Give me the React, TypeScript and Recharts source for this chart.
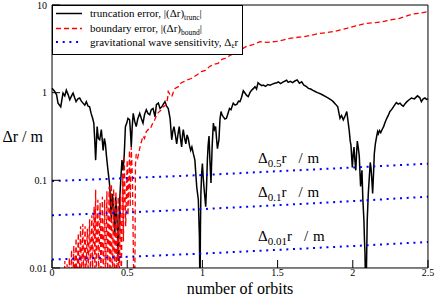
import React from "react";
import { LineChart, Line, XAxis, YAxis } from "recharts";

const SERIF = "Liberation Serif, Times New Roman, DejaVu Serif, serif";

// axis ticks
const X_TICKS = [0, 0.5, 1, 1.5, 2, 2.5];
const X_MINOR = [0.25, 0.75, 1.25, 1.75, 2.25];
const Y_TICKS = [0.01, 0.1, 1, 10];
const Y_MINOR = [
  0.02, 0.03, 0.04, 0.05, 0.06, 0.07, 0.08, 0.09,
  0.2, 0.3, 0.4, 0.5, 0.6, 0.7, 0.8, 0.9,
  2, 3, 4, 5, 6, 7, 8, 9,
];

// [orbits, |Δr| / m]
const truncation: [number, number][] = [
  [0, 1.12], [0.018, 1.03], [0.03, 0.95], [0.04, 0.76], [0.058, 0.69], [0.073, 0.99],
  [0.085, 0.92], [0.095, 1.07], [0.107, 0.95], [0.118, 0.83], [0.13, 0.92], [0.14, 0.99],
  [0.15, 0.88], [0.16, 0.79], [0.172, 0.85], [0.184, 0.87], [0.195, 0.8], [0.206, 0.76],
  [0.218, 0.72], [0.228, 0.79], [0.24, 0.7], [0.25, 0.69], [0.26, 0.58], [0.27, 0.51],
  [0.278, 0.45], [0.284, 0.29], [0.29, 0.17], [0.3, 0.41], [0.308, 0.3], [0.317, 0.29],
  [0.328, 0.38], [0.34, 0.22], [0.348, 0.3], [0.355, 0.26], [0.362, 0.19], [0.37, 0.14],
  [0.377, 0.11], [0.384, 0.085], [0.39, 0.05], [0.395, 0.035], [0.4, 0.07], [0.405, 0.06],
  [0.412, 0.04], [0.418, 0.025], [0.423, 0.065], [0.428, 0.05], [0.434, 0.03], [0.44, 0.012],
  [0.445, 0.03], [0.45, 0.06], [0.457, 0.1], [0.465, 0.17], [0.472, 0.13], [0.48, 0.19],
  [0.488, 0.41], [0.497, 0.45], [0.505, 0.51], [0.516, 0.49], [0.522, 0.35], [0.527, 0.24],
  [0.533, 0.4], [0.54, 0.58], [0.55, 0.47], [0.56, 0.41], [0.57, 0.5], [0.583, 0.58],
  [0.595, 0.5], [0.605, 0.45], [0.615, 0.56], [0.627, 0.64], [0.638, 0.58], [0.65, 0.56],
  [0.66, 0.64], [0.672, 0.66], [0.685, 0.53], [0.694, 0.73], [0.707, 0.76], [0.718, 0.66],
  [0.73, 0.69], [0.74, 0.74], [0.751, 0.79], [0.762, 0.7], [0.773, 0.66], [0.785, 0.51],
  [0.796, 0.29], [0.803, 0.36], [0.811, 0.41], [0.82, 0.33], [0.829, 0.26], [0.838, 0.34],
  [0.846, 0.41], [0.854, 0.3], [0.862, 0.24], [0.868, 0.33], [0.873, 0.38], [0.882, 0.3],
  [0.89, 0.26], [0.898, 0.33], [0.906, 0.3], [0.914, 0.25], [0.922, 0.22], [0.93, 0.24],
  [0.94, 0.2], [0.95, 0.17], [0.956, 0.12], [0.962, 0.085], [0.968, 0.07], [0.973, 0.06],
  [0.978, 0.03], [0.98, 0.023], [0.984, 0.005], [0.987, 0.03], [0.99, 0.071], [0.995, 0.12],
  [1.0, 0.155], [1.005, 0.11], [1.01, 0.085], [1.016, 0.065], [1.022, 0.05], [1.028, 0.09],
  [1.033, 0.17], [1.038, 0.25], [1.044, 0.32], [1.05, 0.17], [1.057, 0.093], [1.065, 0.25],
  [1.073, 0.45], [1.08, 0.38], [1.088, 0.41], [1.094, 0.3], [1.1, 0.23], [1.105, 0.26],
  [1.11, 0.29], [1.117, 0.5], [1.124, 0.61], [1.13, 0.56], [1.139, 0.53], [1.15, 0.5],
  [1.16, 0.51], [1.17, 0.58], [1.18, 0.66], [1.19, 0.64], [1.205, 0.76], [1.217, 0.72],
  [1.23, 0.74], [1.24, 0.8], [1.25, 0.79], [1.26, 0.88], [1.272, 1.05], [1.283, 0.99],
  [1.294, 0.93], [1.305, 0.9], [1.316, 1.0], [1.328, 1.07], [1.34, 1.12], [1.35, 1.17],
  [1.36, 1.1], [1.37, 1.3], [1.38, 1.25], [1.395, 1.2], [1.405, 1.22], [1.42, 1.18],
  [1.435, 1.24], [1.45, 1.22], [1.465, 1.25], [1.48, 1.28], [1.495, 1.3], [1.505, 1.33],
  [1.52, 1.27], [1.535, 1.32], [1.55, 1.36], [1.56, 1.39], [1.57, 1.31], [1.585, 1.35],
  [1.6, 1.3], [1.615, 1.36], [1.63, 1.4], [1.645, 1.28], [1.66, 1.33], [1.675, 1.22],
  [1.69, 1.18], [1.705, 1.12], [1.72, 1.1], [1.735, 1.06], [1.75, 1.03], [1.765, 1.0],
  [1.78, 0.98], [1.8, 0.94], [1.82, 0.9], [1.84, 0.86], [1.855, 0.83], [1.87, 0.79],
  [1.885, 0.74], [1.9, 0.69], [1.915, 0.51], [1.925, 0.55], [1.937, 0.49], [1.95, 0.55],
  [1.96, 0.61], [1.97, 0.45], [1.977, 0.36], [1.983, 0.28], [1.988, 0.25], [1.993, 0.18],
  [1.997, 0.14], [2.003, 0.2], [2.008, 0.24], [2.014, 0.17], [2.02, 0.13], [2.025, 0.2],
  [2.03, 0.28], [2.036, 0.24], [2.043, 0.19], [2.048, 0.12], [2.052, 0.085], [2.057, 0.11],
  [2.061, 0.13], [2.067, 0.06], [2.074, 0.035], [2.078, 0.02], [2.081, 0.015], [2.086, 0.005],
  [2.09, 0.008], [2.096, 0.035], [2.103, 0.07], [2.11, 0.11], [2.116, 0.16], [2.121, 0.14],
  [2.127, 0.1], [2.132, 0.071], [2.138, 0.12], [2.143, 0.2], [2.15, 0.26], [2.159, 0.32],
  [2.165, 0.36], [2.17, 0.34], [2.178, 0.37], [2.186, 0.35], [2.195, 0.38], [2.205, 0.41],
  [2.215, 0.46], [2.226, 0.51], [2.236, 0.55], [2.247, 0.61], [2.258, 0.64], [2.27, 0.69],
  [2.28, 0.73], [2.29, 0.77], [2.302, 0.74], [2.314, 0.76], [2.325, 0.72], [2.336, 0.7],
  [2.348, 0.75], [2.36, 0.79], [2.375, 0.83], [2.39, 0.87], [2.41, 0.85], [2.43, 0.92],
  [2.445, 0.88], [2.456, 0.79], [2.468, 0.85], [2.48, 0.87], [2.49, 0.84], [2.5, 0.85],
];

const boundary: [number, number][] = [
  [0.08, 0.004], [0.085, 0.012], [0.09, 0.004], [0.1, 0.011], [0.105, 0.004], [0.115, 0.013],
  [0.12, 0.004], [0.13, 0.016], [0.135, 0.004], [0.145, 0.018], [0.15, 0.005], [0.16, 0.022],
  [0.165, 0.006], [0.175, 0.025], [0.18, 0.006], [0.19, 0.03], [0.195, 0.007], [0.205, 0.032],
  [0.21, 0.008], [0.22, 0.03], [0.225, 0.008], [0.235, 0.028], [0.24, 0.009], [0.25, 0.036],
  [0.255, 0.008], [0.265, 0.04], [0.27, 0.01], [0.28, 0.05], [0.285, 0.009], [0.29, 0.078],
  [0.295, 0.01], [0.305, 0.06], [0.31, 0.008], [0.32, 0.055], [0.325, 0.008], [0.335, 0.065],
  [0.34, 0.007], [0.35, 0.06], [0.355, 0.006], [0.365, 0.075], [0.37, 0.007], [0.38, 0.085],
  [0.385, 0.006], [0.395, 0.09], [0.4, 0.005], [0.41, 0.08], [0.415, 0.005], [0.425, 0.075],
  [0.43, 0.005], [0.44, 0.065], [0.445, 0.005], [0.455, 0.07], [0.46, 0.006], [0.47, 0.12],
  [0.475, 0.02], [0.48, 0.19], [0.49, 0.03], [0.5, 0.17], [0.505, 0.04], [0.515, 0.22],
  [0.52, 0.05], [0.527, 0.24], [0.535, 0.1], [0.545, 0.004], [0.55, 0.004], [0.555, 0.15],
  [0.56, 0.2], [0.57, 0.18], [0.58, 0.22], [0.59, 0.26], [0.605, 0.32], [0.615, 0.3],
  [0.627, 0.36], [0.64, 0.38], [0.652, 0.38], [0.66, 0.41], [0.67, 0.45], [0.683, 0.49],
  [0.696, 0.56], [0.71, 0.6], [0.72, 0.62], [0.74, 0.69], [0.755, 0.72], [0.763, 0.76],
  [0.77, 0.9], [0.773, 1.03], [0.785, 0.95], [0.796, 0.9], [0.81, 1.05], [0.818, 1.12],
  [0.84, 1.17], [0.86, 1.3], [0.873, 1.33], [0.9, 1.4], [0.926, 1.45], [0.962, 1.59],
  [0.993, 1.74], [1.02, 1.8], [1.05, 2.0], [1.075, 2.1], [1.104, 2.16], [1.13, 2.4],
  [1.15, 2.46], [1.19, 2.69], [1.22, 2.9], [1.25, 3.06], [1.29, 3.35], [1.33, 3.5],
  [1.383, 3.81], [1.43, 3.75], [1.494, 3.85], [1.54, 4.0], [1.58, 4.17], [1.62, 4.25],
  [1.67, 4.35], [1.72, 4.5], [1.78, 4.75], [1.83, 4.85], [1.87, 4.97], [1.92, 5.2],
  [1.96, 5.42], [2.02, 5.8], [2.09, 6.18], [2.15, 6.3], [2.2, 6.45], [2.26, 6.8],
  [2.31, 7.05], [2.36, 7.5], [2.4, 7.9], [2.45, 8.1], [2.5, 8.4],
];

// gravitational wave sensitivity Δ_ε r for ε = 0.5, 0.1, 0.01
const sens05: [number, number][] = [[0, 0.098], [0.5, 0.106], [1, 0.115], [1.5, 0.127], [2, 0.14], [2.5, 0.155]];
const sens01: [number, number][] = [[0, 0.04], [0.5, 0.043], [1, 0.047], [1.5, 0.052], [2, 0.058], [2.5, 0.065]];
const sens001: [number, number][] = [[0, 0.0125], [0.5, 0.0134], [1, 0.0146], [1.5, 0.0161], [2, 0.0178], [2.5, 0.0198]];

const pts = (a: [number, number][]) => a.map(([x, v]) => ({ x, v }));

const tickFont = { fontSize: 10, fill: "#000", fontFamily: SERIF };
const axisLine = { stroke: "#000", strokeWidth: 1 };
const tickLine = { stroke: "#000", strokeWidth: 1 };
const THIN = 0.01; // axes take (almost) no room, the plot box comes from the margins

function SensLabel({ x, y, eps }: { x: number; y: number; eps: string }) {
  return (
    <text x={x} y={y} fontSize={15} fontFamily={SERIF} fill="#000">
      Δ<tspan fontSize={11} dy={4}>{eps}</tspan>
      <tspan dy={-4}>r</tspan>
      <tspan dx={12}>/</tspan>
      <tspan dx={5}>m</tspan>
    </text>
  );
}

export default function App() {
  const blue = { stroke: "#0000ff", strokeWidth: 2, strokeDasharray: "2 4.7" };
  return (
    <div style={{ position: "absolute", left: 0, top: 0, width: 436, height: 296, background: "#fff", fontFamily: SERIF }}>
      <LineChart width={436} height={296} margin={{ top: 5, right: 8, bottom: 28, left: 52 }} style={{ fontFamily: SERIF }}>
        <XAxis
          xAxisId="b" orientation="bottom" type="number" dataKey="x" domain={[0, 2.5]} ticks={X_TICKS}
          interval={0} height={THIN} tickSize={-8} tickMargin={8.5} tick={tickFont} axisLine={axisLine} tickLine={tickLine}
          label={{ value: "number of orbits", position: "bottom", offset: 14.6, fontSize: 16, fontFamily: SERIF, fill: "#000" }}
        />
        <XAxis xAxisId="bm" orientation="bottom" type="number" dataKey="x" domain={[0, 2.5]} ticks={X_MINOR}
          interval={0} height={THIN} tickSize={-4} tick={false} axisLine={false} tickLine={tickLine} />
        <XAxis xAxisId="t" orientation="top" type="number" dataKey="x" domain={[0, 2.5]} ticks={X_TICKS}
          interval={0} height={THIN} tickSize={-8} tick={false} axisLine={axisLine} tickLine={tickLine} />
        <XAxis xAxisId="tm" orientation="top" type="number" dataKey="x" domain={[0, 2.5]} ticks={X_MINOR}
          interval={0} height={THIN} tickSize={-4} tick={false} axisLine={false} tickLine={tickLine} />
        <YAxis
          yAxisId="l" orientation="left" type="number" scale="log" domain={[0.01, 10]} allowDataOverflow ticks={Y_TICKS}
          interval={0} width={THIN} tickSize={-8} tickMargin={13} tick={tickFont} axisLine={axisLine} tickLine={tickLine}
          tickFormatter={(v: number) => String(v)}
          label={{ value: "Δr / m", position: "left", offset: 9, fontSize: 16, fontFamily: SERIF, fill: "#000" }}
        />
        <YAxis yAxisId="lm" orientation="left" type="number" scale="log" domain={[0.01, 10]} allowDataOverflow ticks={Y_MINOR}
          interval={0} width={THIN} tickSize={-4} tick={false} axisLine={false} tickLine={tickLine} />
        <YAxis yAxisId="r" orientation="right" type="number" scale="log" domain={[0.01, 10]} allowDataOverflow ticks={Y_TICKS}
          interval={0} width={THIN} tickSize={-8} tick={false} axisLine={axisLine} tickLine={tickLine} />
        <YAxis yAxisId="rm" orientation="right" type="number" scale="log" domain={[0.01, 10]} allowDataOverflow ticks={Y_MINOR}
          interval={0} width={THIN} tickSize={-4} tick={false} axisLine={false} tickLine={tickLine} />

        <Line xAxisId="b" yAxisId="l" data={pts(truncation)} dataKey="v" type="linear" stroke="#000"
          strokeWidth={1.5} dot={false} isAnimationActive={false} />
        <Line xAxisId="b" yAxisId="l" data={pts(boundary)} dataKey="v" type="linear" stroke="#ff0000"
          strokeWidth={1.3} strokeDasharray="5 3" dot={false} isAnimationActive={false} />
        <Line xAxisId="b" yAxisId="l" data={pts(sens05)} dataKey="v" type="linear" {...blue} dot={false} isAnimationActive={false} />
        <Line xAxisId="b" yAxisId="l" data={pts(sens01)} dataKey="v" type="linear" {...blue} dot={false} isAnimationActive={false} />
        <Line xAxisId="b" yAxisId="l" data={pts(sens001)} dataKey="v" type="linear" {...blue} dot={false} isAnimationActive={false} />
      </LineChart>

      {/* legend + curve annotations */}
      <svg width={436} height={296} style={{ position: "absolute", left: 0, top: 0, pointerEvents: "none" }}>
        <rect x={52.5} y={5.5} width={190} height={49} fill="#fff" stroke="#000" strokeWidth={1} />
        <line x1={56} y1={13.5} x2={82} y2={13.5} stroke="#000" strokeWidth={1.5} />
        <line x1={56} y1={28.5} x2={82} y2={28.5} stroke="#ff0000" strokeWidth={1.5} strokeDasharray="5 3" />
        <line x1={56} y1={42} x2={82} y2={42} stroke="#0000ff" strokeWidth={2} strokeDasharray="2 4.7" />
        <g fontSize={11} fontFamily={SERIF} fill="#000">
          <text x={90} y={17}>
            truncation error, |(Δr)<tspan fontSize={7.5} dy={2.5}>trunc</tspan><tspan dy={-2.5}>|</tspan>
          </text>
          <text x={90} y={32}>
            boundary error, |(Δr)<tspan fontSize={7.5} dy={2.5}>bound</tspan><tspan dy={-2.5}>|</tspan>
          </text>
          <text x={90} y={45.5}>
            gravitational wave sensitivity, Δ<tspan fontSize={7.5} dy={2.5}>ε</tspan><tspan dy={-2.5}>r</tspan>
          </text>
        </g>
        <SensLabel x={258} y={163} eps="0.5" />
        <SensLabel x={258} y={197} eps="0.1" />
        <SensLabel x={258} y={241} eps="0.01" />
      </svg>
    </div>
  );
}
